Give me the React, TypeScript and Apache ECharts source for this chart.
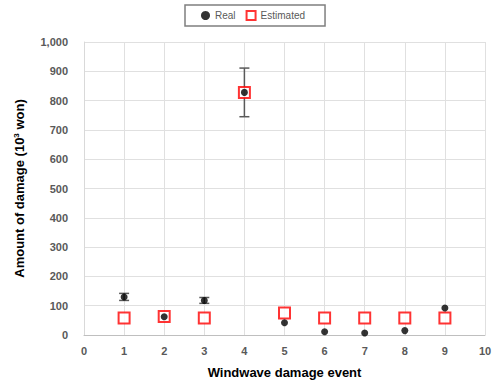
import React, { useEffect, useRef } from "react";
import * as echarts from "echarts";

const events = [1, 2, 3, 4, 5, 6, 7, 8, 9];
const realValues = [130, 62, 118, 828, 42, 11, 7, 15, 92];
const realErrors = [12, 0, 10, 83, 0, 0, 0, 0, 0];
const estimatedValues = [58, 63, 58, 828, 75, 58, 58, 58, 58];

export default function App() {
  const ref = useRef<HTMLDivElement>(null);
  useEffect(() => {
    if (!ref.current) return;
    const chart = echarts.init(ref.current, null, { renderer: "svg" });
    const errData = events
      .map((x, i) => [x, realValues[i] - realErrors[i], realValues[i] + realErrors[i]])
      .filter((d, i) => realErrors[i] > 0);
    chart.setOption({
      animation: false,
      backgroundColor: "#ffffff",
      textStyle: { fontFamily: "Liberation Sans" },
      grid: { left: 84, right: 13, top: 42, bottom: 50 },
      legend: {
        top: 5,
        left: 185,
        itemGap: 10,
        itemWidth: 9,
        itemHeight: 9,
        padding: [5, 20, 5, 16],
        borderColor: "#7f7f7f",
        borderWidth: 1.5,
        textStyle: { fontSize: 10, color: "#595959" },
        data: [
          { name: "Real", icon: "circle", itemStyle: { color: "#000" } },
          {
            name: "Estimated",
            icon: "rect",
            itemStyle: { color: "#fff", borderColor: "#ff0000", borderWidth: 2 },
          },
        ],
      },
      xAxis: {
        type: "value",
        min: 0,
        max: 10,
        interval: 1,
        name: "Windwave damage event",
        nameLocation: "middle",
        nameGap: 31,
        nameTextStyle: { fontSize: 13, fontWeight: "bold", color: "#000" },
        axisLine: { show: true, lineStyle: { color: "#bfbfbf" } },
        axisTick: { show: false },
        axisLabel: { fontSize: 11, fontWeight: "bold", color: "#595959", margin: 10 },
        splitLine: { show: true, lineStyle: { color: "#e0e0e0" } },
      },
      yAxis: {
        type: "value",
        min: 0,
        max: 1000,
        interval: 100,
        name: "{a|Amount of damage (10}{s|3}{a| won)}",
        nameLocation: "middle",
        nameGap: 58,
        nameTextStyle: {
          rich: {
            a: { fontSize: 13, fontWeight: "bold", color: "#000", fontFamily: "Liberation Sans" },
            s: { fontSize: 8, fontWeight: "bold", color: "#000", verticalAlign: "top", padding: [0, 0, 6, 0], fontFamily: "Liberation Sans" },
          },
        },
        axisLine: { show: true, lineStyle: { color: "#d9d9d9" } },
        axisTick: { show: false },
        axisLabel: {
          fontSize: 11,
          fontWeight: "bold",
          color: "#595959",
          margin: 16,
          formatter: (v: number) => v.toLocaleString("en-US"),
        },
        splitLine: { show: true, lineStyle: { color: "#e0e0e0" } },
      },
      series: [
        {
          type: "custom",
          name: "err",
          silent: true,
          renderItem: (params: any, api: any) => {
            const x = api.value(0);
            const lo = api.coord([x, api.value(1)]);
            const hi = api.coord([x, api.value(2)]);
            const w = 5;
            const style = { stroke: "#595959", lineWidth: 1.5 };
            return {
              type: "group",
              children: [
                { type: "line", shape: { x1: lo[0], y1: lo[1], x2: hi[0], y2: hi[1] }, style },
                { type: "line", shape: { x1: lo[0] - w, y1: lo[1], x2: lo[0] + w, y2: lo[1] }, style },
                { type: "line", shape: { x1: hi[0] - w, y1: hi[1], x2: hi[0] + w, y2: hi[1] }, style },
              ],
            };
          },
          data: errData,
          z: 1,
        },
        {
          type: "scatter",
          name: "Estimated",
          symbol: "rect",
          symbolSize: 11,
          itemStyle: { color: "#ffffff", borderColor: "#ff0000", borderWidth: 2 },
          data: events.map((x, i) => [x, estimatedValues[i]]),
          z: 2,
        },
        {
          type: "scatter",
          name: "Real",
          symbol: "circle",
          symbolSize: 7,
          itemStyle: { color: "#000000" },
          data: events.map((x, i) => [x, realValues[i]]),
          z: 3,
        },
      ],
    });
    return () => chart.dispose();
  }, []);
  return (
    <div
      ref={ref}
      style={{ position: "fixed", left: 0, top: 0, width: 498, height: 385 }}
    />
  );
}
